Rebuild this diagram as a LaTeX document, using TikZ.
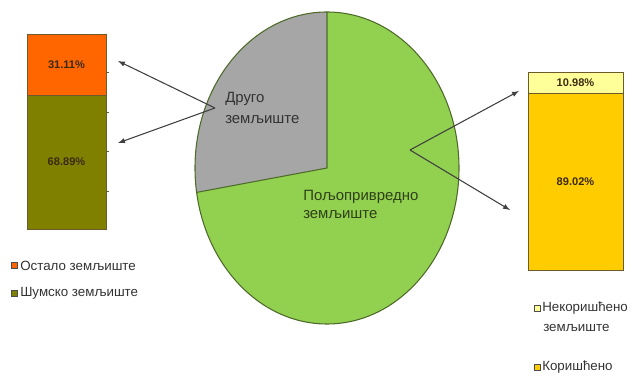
\documentclass[tikz,border=0pt]{standalone}
\usepackage{fontspec}
\setmainfont{Liberation Sans}
\usepackage{tikz}
\definecolor{pieGreen}{HTML}{92D050}
\definecolor{pieGray}{HTML}{A6A6A6}
\definecolor{pieLine}{HTML}{4F6B2A}
\definecolor{ostalo}{HTML}{FF6600}
\definecolor{sumsko}{HTML}{808000}
\definecolor{nekor}{HTML}{FFFF99}
\definecolor{kor}{HTML}{FFCC00}
\definecolor{barLine}{HTML}{6B5A2A}
\definecolor{pctText}{HTML}{3A2A10}

\begin{document}
\begin{tikzpicture}[x=0.75pt,y=-0.75pt,
    seg/.style={draw=barLine,line width=0.6pt,inner sep=0pt,minimum width=#1*0.75pt},
    pct/.style={font=\bfseries\fontsize{8.3}{9}\selectfont,text=pctText},
    lgbox/.style={draw=black!70,line width=0.5pt,minimum size=4.3pt,inner sep=0pt},
    lgtext/.style={font=\fontsize{10}{12}\selectfont,text=black!80,anchor=west,inner sep=0pt},
    arr/.style={->,>=latex,draw=black!75,line width=0.8pt}]
  \useasboundingbox (0,0) rectangle (633,377);
  % pie
  \coordinate (c) at (327,168);
  \fill[pieGreen] (c) ellipse [x radius=132,y radius=156];
  \fill[pieGray] (c) -- ++(0,-156) arc [start angle=270,end angle=171,x radius=132,y radius=156] -- cycle;
  \draw[pieLine,line width=0.8pt] (c) ellipse [x radius=132,y radius=156];
  \draw[pieLine,line width=0.8pt] (c) ++(0,-156) -- (c) -- ++(171:132 and 156);
  \node (drugo) at (225,108) [anchor=west,align=left,inner sep=0pt,text=black!80,
    font=\fontsize{11.2}{15.5}\selectfont] {Друго\\земљиште};
  \node (polj) at (303,204) [anchor=west,align=left,inner sep=0pt,text=pieLine!60!black,
    font=\fontsize{11.2}{13.5}\selectfont] {Пољопривредно\\земљиште};
  % left bar
  \node (ost) at (66.5,64.5) [seg=79,minimum height=61*0.75pt,fill=ostalo] {};
  \node (sum) at (66.5,162) [seg=79,minimum height=134*0.75pt,fill=sumsko] {};
  \node at (ost) [pct] {31.11\%};
  \node at (sum) [pct] {68.89\%};
  \foreach \y in {72,112,151,191}
    \draw[barLine,line width=0.5pt] (106,\y) -- (108.5,\y);
  % right bar
  \node (nek) at (575.5,82.5) [seg=95,minimum height=21*0.75pt,fill=nekor] {};
  \node (kor) at (575.5,181.5) [seg=95,minimum height=177*0.75pt,fill=kor] {};
  \node at (nek) [pct] {10.98\%};
  \node at (kor) [pct] {89.02\%};
  % arrows
  \coordinate (lv) at (215,108);
  \coordinate (l1) at (118,61);
  \coordinate (l2) at (118,143);
  \draw[arr] (lv) -- (l1);
  \draw[arr] (lv) -- (l2);
  \coordinate (rv) at (410,150);
  \coordinate (r1) at (519,91);
  \coordinate (r2) at (510,210);
  \draw[arr] (rv) -- (r1);
  \draw[arr] (rv) -- (r2);
  % legends
  \node (b1) at (14.5,265.5) [lgbox,fill=ostalo] {};
  \node (t1) at (20,265.5) [lgtext] {Остало земљиште};
  \node (b2) at (14.5,293.5) [lgbox,fill=sumsko] {};
  \node (t2) at (20,293.5) [lgtext] {Шумско земљиште};
  \node (b3) at (537.5,308.5) [lgbox,fill=nekor] {};
  \node (t3) at (542,308.5) [lgtext] {Некоришћено};
  \node (t3b) at (543,327.5) [lgtext] {земљиште};
  \node (b4) at (537.5,367.5) [lgbox,fill=kor] {};
  \node (t4) at (542,367.5) [lgtext] {Коришћено};
\end{tikzpicture}
\end{document}
